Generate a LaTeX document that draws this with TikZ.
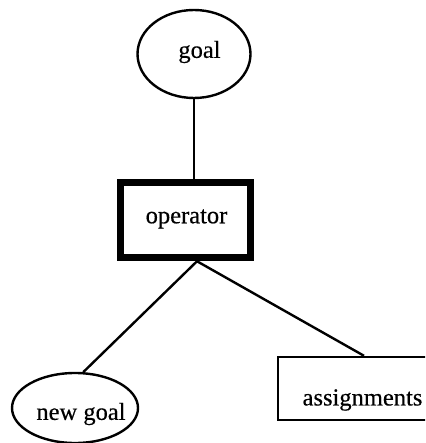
\documentclass[tikz,border=0pt]{standalone}
\usepackage{fontspec}
\setmainfont{Liberation Serif}
\newfontfamily\lblfont{Liberation Serif}[FakeBold=0.4]
\usetikzlibrary{shapes.geometric}
\begin{document}
\begin{tikzpicture}[x=1pt,y=-1pt,
  lbl/.style={font=\lblfont\fontsize{24.5}{28}\selectfont, inner sep=0pt},
  oval/.style={draw, ellipse, line width=2.4pt, inner sep=0pt},
  conn/.style={line width=2.4pt}]
\useasboundingbox (0,0) rectangle (425,443);
\clip (0,0) rectangle (425,443);
% nodes
\node[oval, minimum width=113pt, minimum height=88pt] (goal) at (194,54) {};
\node[lbl] (goaltext) at (199.5,52) {goal};
\node[draw, line width=7.5pt, minimum width=130pt, minimum height=75pt, inner sep=0pt] (op) at (185.5,220) {};
\node[lbl] (optext) at (186.5,219) {operator};
\node[oval, minimum width=126pt, minimum height=70pt] (newgoal) at (75,408) {};
\node[lbl] (newgoaltext) at (81,414) {new goal};
\node[draw, line width=2.4pt, minimum width=162pt, minimum height=63pt, inner sep=0pt] (assign) at (359,388.5) {};
\node[lbl] (assigntext) at (362.5,400) {assignments};
% connectors
\coordinate (opb) at ([xshift=11.5pt]op.south);
\draw[conn] (goal.south) -- (goal.south |- op.north);
\draw[conn] (opb) -- (newgoal.77);
\draw[conn] (opb) -- ([xshift=5pt]assign.north);
\end{tikzpicture}
\end{document}
